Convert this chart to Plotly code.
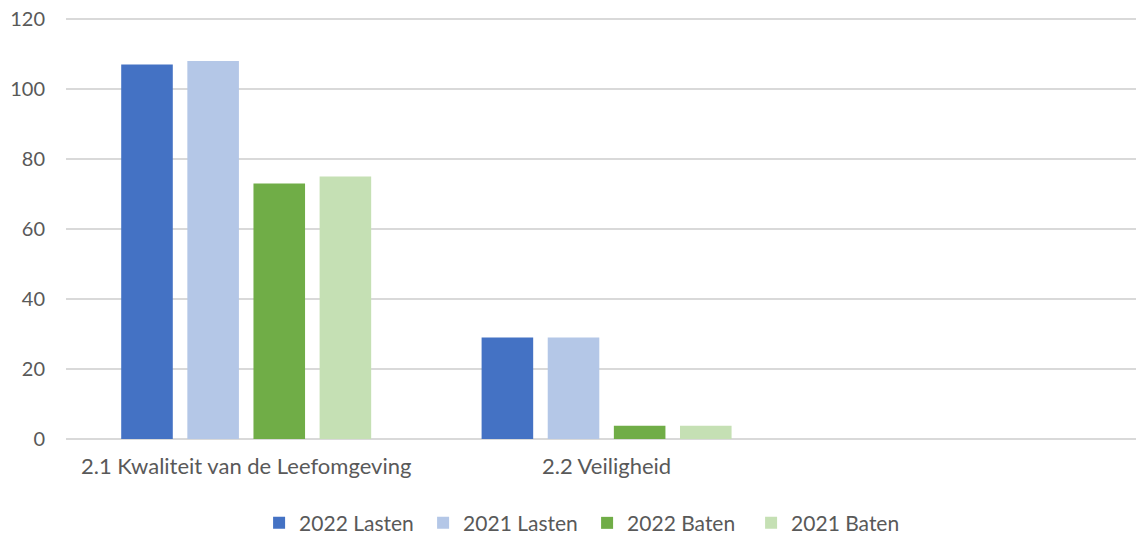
import plotly.graph_objects as go

categories = ["2.1 Kwaliteit van de Leefomgeving", "2.2 Veiligheid"]
series_names = ["2022 Lasten", "2021 Lasten", "2022 Baten", "2021 Baten"]
lasten_2022 = [107, 29]
lasten_2021 = [108, 29]
baten_2022 = [73, 3.8]
baten_2021 = [75, 3.8]
y_ticks = [0, 20, 40, 60, 80, 100, 120]

colors = ["#4472C4", "#B4C7E7", "#70AD47", "#C5E0B4"]
values = [lasten_2022, lasten_2021, baten_2022, baten_2021]

font_family = "Lato, Carlito, Calibri, sans-serif"
grey = "#595959"

fig = go.Figure()
for name, vals, col in zip(series_names, values, colors):
    fig.add_trace(go.Bar(
        x=categories,
        y=vals,
        name=name,
        marker=dict(color=col, line=dict(width=0)),
        hoverinfo="x+y+name",
    ))

fig.update_layout(
    width=1136,
    height=535,
    barmode="group",
    bargap=0.266,
    bargroupgap=0.22,
    plot_bgcolor="white",
    paper_bgcolor="white",
    margin=dict(l=66, r=0, t=18, b=96, autoexpand=False),
    font=dict(family=font_family, size=21, color=grey),
    legend=dict(
        orientation="h",
        x=0.487,
        xanchor="center",
        y=-0.2,
        yanchor="middle",
        font=dict(size=21, color=grey),
        itemwidth=30,
        entrywidth=119,
        traceorder="normal",
    ),
    xaxis=dict(
        range=[-0.5, 2.469],
        showgrid=False,
        showline=False,
        zeroline=False,
        automargin=False,
        ticklabelstandoff=12,
        tickfont=dict(size=22, color=grey),
    ),
    yaxis=dict(
        # a little headroom so the 120 gridline is not dropped at the plot edge
        range=[0, 120.29],
        tickvals=y_ticks,
        showgrid=True,
        gridcolor="#D9D9D9",
        gridwidth=1.5,
        zeroline=True,
        zerolinecolor="#D9D9D9",
        zerolinewidth=1.5,
        showline=False,
        automargin=False,
        ticklabelstandoff=20,
        tickfont=dict(size=20, color=grey),
    ),
)

# drop the default 8px body margin so the figure sits in the page corner
fig.write_html(
    "out.html",
    config={"displayModeBar": False},
    post_script="document.body.style.margin = '0';",
)
